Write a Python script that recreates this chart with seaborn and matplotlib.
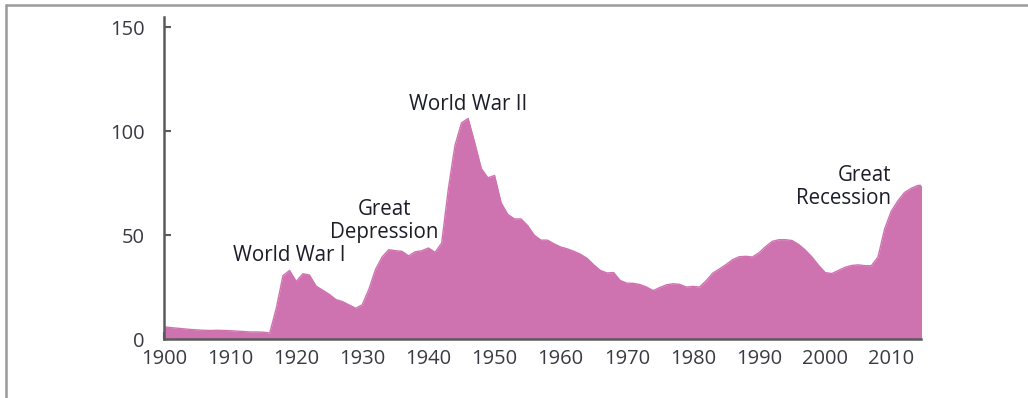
import numpy as np
import pandas as pd
import matplotlib
matplotlib.use("Agg")
import matplotlib.pyplot as plt
import seaborn as sns

# Federal debt held by the public, percent of GDP
years = list(range(1900, 2016))
debt_pct_gdp = [
    5.9, 5.5, 5.2, 4.9, 4.6, 4.4, 4.2, 4.1, 4.2, 4.1,          # 1900s
    4.0, 3.8, 3.6, 3.4, 3.4, 3.3, 2.9, 15.0, 30.5, 33.0,       # 1910s
    27.7, 31.4, 30.8, 25.5, 23.5, 21.5, 19.0, 18.0, 16.4, 14.8, # 1920s
    16.5, 24.0, 33.5, 39.5, 43.0, 42.5, 42.2, 40.0, 42.0, 42.5, # 1930s
    43.8, 41.7, 46.2, 72.0, 93.0, 104.0, 106.2, 94.5, 82.0, 77.6, # 1940s
    78.7, 65.5, 60.0, 57.8, 57.8, 54.6, 50.0, 47.6, 47.6, 45.8, # 1950s
    44.3, 43.4, 42.2, 40.8, 38.8, 35.7, 33.0, 31.8, 32.0, 28.2, # 1960s
    26.9, 26.8, 26.2, 25.0, 23.3, 24.8, 26.1, 26.6, 26.3, 25.0, # 1970s
    25.3, 25.0, 28.0, 31.7, 33.7, 35.8, 38.2, 39.6, 39.8, 39.5, # 1980s
    41.5, 44.5, 47.0, 47.8, 47.8, 47.4, 45.5, 42.8, 39.5, 35.5, # 1990s
    32.0, 31.5, 33.0, 34.5, 35.4, 35.7, 35.3, 35.3, 39.5, 53.0, # 2000s
    61.5, 66.5, 70.5, 72.5, 73.9, 74.0,                         # 2010s
]

x_ticks = list(range(1900, 2011, 10))
y_ticks = [0, 50, 100, 150]

event_labels = ["World War I", "Great\nDepression", "World War II", "Great\nRecession"]
event_years = [1918.9, 1933.3, 1946.0, 2010.0]
event_levels = [35.2, 46.0, 108.0, 62.5]
event_align = ["center", "center", "center", "right"]

df = pd.DataFrame({"year": years, "debt": debt_pct_gdp})

sns.set_theme(style="white")
plt.rcParams["font.family"] = ["Open Sans", "DejaVu Sans"]

fill_color = "#CE72B0"
spine_color = "#5a5a5a"

fig = plt.figure(figsize=(10.28, 3.98), dpi=100)
ax = fig.add_axes([0.1595, 0.1482, 0.7364, 0.8091])

sns.lineplot(data=df, x="year", y="debt", ax=ax, color=fill_color, linewidth=1.0)
ax.fill_between(df["year"], df["debt"], 0, color=fill_color, linewidth=0)

ax.set_xlim(1900, 2014.5)
ax.set_ylim(0, 155)
ax.set_xticks(x_ticks)
ax.set_yticks(y_ticks)
ax.set_xlabel("")
ax.set_ylabel("")

for side in ("top", "right"):
    ax.spines[side].set_visible(False)
for side in ("left", "bottom"):
    ax.spines[side].set_color(spine_color)
    ax.spines[side].set_linewidth(1.8)
    ax.spines[side].set_zorder(5)

ax.tick_params(axis="x", direction="in", length=5, width=1.5, color=spine_color,
               pad=7, labelsize=14.5, labelcolor="#3a3a44")
ax.tick_params(axis="y", direction="in", length=5, width=1.5, color=spine_color,
               pad=14, labelsize=14.5, labelcolor="#3a3a44")
ax.tick_params(bottom=True, left=True)

for label, yr, lvl, ha in zip(event_labels, event_years, event_levels, event_align):
    ax.text(yr, lvl, label, ha=ha, va="bottom", fontsize=14.8, multialignment=ha,
            color="#1c1c2a", linespacing=1.15)

# Page frame on the left and top edges
fig.add_artist(plt.Line2D([0.0058, 0.0058], [0.0, 0.987], transform=fig.transFigure,
                          color="#9a9a9a", linewidth=1.8))
fig.add_artist(plt.Line2D([0.0058, 1.0], [0.987, 0.987], transform=fig.transFigure,
                          color="#9a9a9a", linewidth=1.8))

fig.savefig("out.png", dpi=100)
